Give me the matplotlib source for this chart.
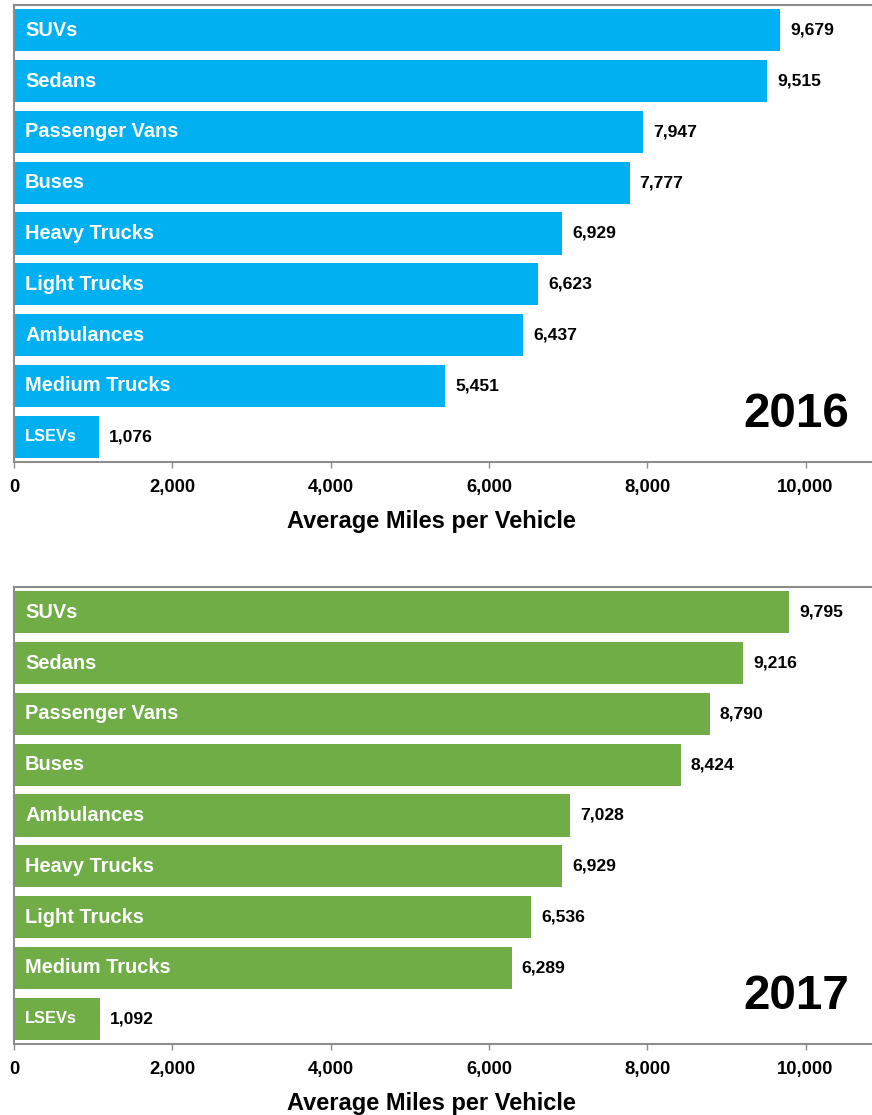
import matplotlib
matplotlib.use("Agg")
import matplotlib.pyplot as plt
from matplotlib.ticker import FuncFormatter

plt.rcParams["font.family"] = ["Liberation Sans", "DejaVu Sans"]
plt.rcParams["font.weight"] = "bold"

# 2016 fleet mileage
cats_2016 = ["SUVs", "Sedans", "Passenger Vans", "Buses", "Heavy Trucks",
             "Light Trucks", "Ambulances", "Medium Trucks", "LSEVs"]
miles_2016 = [9679, 9515, 7947, 7777, 6929, 6623, 6437, 5451, 1076]

# 2017 fleet mileage
cats_2017 = ["SUVs", "Sedans", "Passenger Vans", "Buses", "Ambulances",
             "Heavy Trucks", "Light Trucks", "Medium Trucks", "LSEVs"]
miles_2017 = [9795, 9216, 8790, 8424, 7028, 6929, 6536, 6289, 1092]

x_ticks = [0, 2000, 4000, 6000, 8000, 10000]

W, H = 872, 1115
fig = plt.figure(figsize=(W / 100, H / 100), dpi=100)

GRAY = "#8c8c8c"
XMAX = 10840


def panel(bottom_px, top_px, cats, vals, color, year):
    ax = fig.add_axes([14 / W, 1 - bottom_px / H, 1 - 14 / W,
                       (bottom_px - top_px) / H])
    y = list(range(len(cats)))
    ax.barh(y, vals, height=0.83, color=color, zorder=2)
    ax.set_ylim(len(cats) - 0.5, -0.5)
    ax.set_xlim(0, XMAX)
    ax.set_yticks([])
    ax.set_xticks(x_ticks)
    ax.xaxis.set_major_formatter(FuncFormatter(lambda v, p: f"{int(v):,}"))
    ax.tick_params(axis="x", length=4, width=1, color=GRAY, pad=8.5,
                   labelsize=13.3)
    for lbl in ax.get_xticklabels():
        lbl.set_fontweight("bold")
    for s in ["top", "left", "bottom"]:
        ax.spines[s].set_color(GRAY)
        ax.spines[s].set_linewidth(1.5)
    ax.spines["right"].set_visible(False)

    for yi, (c, v) in enumerate(zip(cats, vals)):
        size = 11.8 if c == "LSEVs" else 14.4
        ax.text(140, yi, c, color="white", fontsize=size, fontweight="bold",
                va="center", ha="left", zorder=3)
        ax.text(v + 125, yi, f"{v:,}", color="black", fontsize=12.6,
                fontweight="bold", va="center", ha="left", zorder=3)

    ax.text(0.973, 0.105, year, transform=ax.transAxes, fontsize=34.3,
            fontweight="bold", ha="right", va="center")
    ax.set_xlabel("Average Miles per Vehicle", fontsize=17,
                  fontweight="bold")
    ax.xaxis.set_label_coords((431 - 14) / (W - 14), -0.105)
    return ax


panel(462, 5, cats_2016, miles_2016, "#00B0F0", "2016")
panel(1044, 587, cats_2017, miles_2017, "#70AD47", "2017")

fig.savefig("out.png", dpi=100)
